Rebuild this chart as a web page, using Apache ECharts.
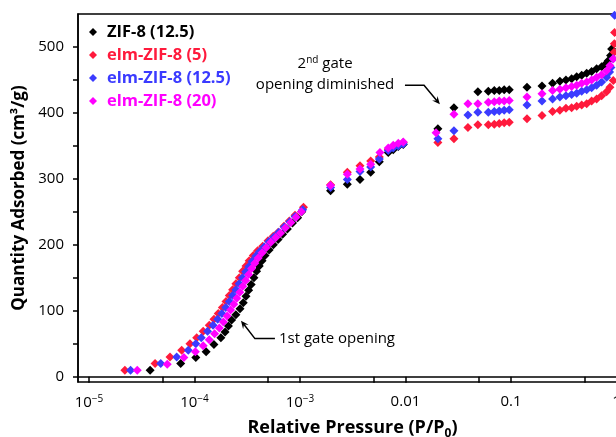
<!DOCTYPE html>
<html>
<head>
<meta charset="UTF-8">
<title>ZIF-8 isotherms</title>
<script src="https://cdn.jsdelivr.net/npm/echarts@6/dist/echarts.min.js"></script>
<style>
    * { margin: 0; padding: 0; box-sizing: border-box; }
    html, body { width: 100%; height: 100%; background: #fff; }
    #chart { width: 616px; height: 437px; }
</style>
</head>
<body>
<div id="chart"></div>
<script>
// [relative pressure, quantity adsorbed (cm3/g)]
var zif8_125 = [
    [3.8e-5,10],[7.4e-5,20],[1.03e-4,29],[1.29e-4,38],[1.53e-4,49],[1.78e-4,59],[1.95e-4,68],[2.1e-4,77],
    [2.25e-4,86],[2.47e-4,94],[2.7e-4,103],[2.9e-4,112],[3.08e-4,122],[3.26e-4,131],[3.45e-4,140],[3.66e-4,150],
    [3.88e-4,160],[4.11e-4,168],[4.37e-4,176],[4.66e-4,184],[5.1e-4,192],[5.6e-4,200],[6.2e-4,208],[6.85e-4,216],
    [7.6e-4,224],[8.5e-4,233],[9.5e-4,241],[1.04e-3,250],
    [1.95e-3,282],[2.81e-3,292],[3.71e-3,299],[4.68e-3,310],[5.65e-3,326],[6.87e-3,340],[7.66e-3,344],[8.55e-3,349],[9.53e-3,352],
    [0.0203,376],[0.0288,408],[0.0486,432],[0.061,433],[0.0695,434],[0.0775,434],[0.0863,435],[0.0964,435],
    [0.142,439],[0.197,441],[0.248,445],[0.291,448],[0.332,450],[0.376,452],[0.42,455],[0.468,457],[0.522,460],
    [0.582,463],[0.649,467],[0.724,470],[0.79,474],[0.836,479],[0.88,487],[0.9,497]
];
var elm_5 = [
    [2.19e-5,10],[4.23e-5,20],[5.86e-5,30],[7.57e-5,40],[9.06e-5,50],[1.05e-4,59],[1.21e-4,69],[1.38e-4,78],
    [1.53e-4,87],[1.68e-4,96],[1.84e-4,105],[1.99e-4,114],[2.14e-4,123],[2.3e-4,132],[2.47e-4,141],[2.66e-4,150],
    [2.86e-4,160],[3.08e-4,168],[3.3e-4,176],[3.61e-4,184],[3.97e-4,191],[4.43e-4,198],[4.98e-4,206],[5.58e-4,213],
    [6.22e-4,219],[7.05e-4,228],[7.93e-4,236],[8.97e-4,245],[1.08e-3,257],
    [1.95e-3,291],[2.81e-3,310],[3.71e-3,320],[4.68e-3,327],[5.65e-3,333],[6.87e-3,345],[7.66e-3,349],[8.55e-3,352],[9.53e-3,355],
    [0.0203,355],[0.0288,361],[0.0391,378],[0.0486,382],[0.061,382],[0.0695,383],[0.0775,384],[0.0863,385],[0.0964,386],
    [0.142,391],[0.197,396],[0.248,402],[0.291,404],[0.332,407],[0.376,408],[0.42,410],[0.468,412],[0.522,414],
    [0.582,418],[0.649,421],[0.724,426],[0.807,432],[0.867,439],[0.933,449],[0.95,492],[0.955,505],[0.96,522]
];
var elm_125 = [
    [2.48e-5,10],[4.79e-5,20],[6.78e-5,30],[8.73e-5,40],[1.03e-4,50],[1.16e-4,59],[1.33e-4,69],[1.5e-4,78],
    [1.66e-4,87],[1.82e-4,96],[1.98e-4,105],[2.14e-4,114],[2.3e-4,123],[2.47e-4,132],[2.65e-4,141],[2.85e-4,150],
    [3.06e-4,159],[3.28e-4,167],[3.52e-4,175],[3.82e-4,183],[4.15e-4,190],[4.58e-4,197],[5.08e-4,205],[5.65e-4,212],
    [6.3e-4,219],[7.1e-4,227],[8.0e-4,235],[9.0e-4,243],[1.06e-3,253],
    [1.95e-3,287],[2.81e-3,299],[3.71e-3,311],[4.68e-3,318],[5.65e-3,330],[6.87e-3,343],[7.66e-3,347],[8.55e-3,350],[9.53e-3,353],
    [0.0203,361],[0.0288,373],[0.0391,397],[0.0486,401],[0.061,401],[0.0695,402],[0.0775,403],[0.0863,404],[0.0964,405],
    [0.142,412],[0.197,418],[0.248,421],[0.291,424],[0.332,426],[0.376,428],[0.42,430],[0.468,433],[0.522,435],
    [0.582,438],[0.649,442],[0.724,447],[0.807,454],[0.86,462],[0.887,469],[0.93,482],[0.96,548]
];
var elm_20 = [
    [2.87e-5,10],[5.52e-5,19],[7.94e-5,29],[1.02e-4,38],[1.21e-4,47],[1.38e-4,56],[1.55e-4,65],[1.72e-4,74],
    [1.88e-4,83],[2.04e-4,92],[2.2e-4,101],[2.36e-4,110],[2.52e-4,119],[2.69e-4,128],[2.87e-4,137],[3.06e-4,146],
    [3.26e-4,155],[3.48e-4,164],[3.73e-4,172],[4.02e-4,180],[4.38e-4,188],[4.8e-4,196],[5.3e-4,204],[5.9e-4,211],
    [6.55e-4,218],[7.3e-4,226],[8.2e-4,234],[9.2e-4,242],[1.03e-3,250],
    [1.95e-3,290],[2.81e-3,307],[3.71e-3,315],[4.68e-3,322],[5.73e-3,340],[6.87e-3,347],[7.66e-3,351],[8.55e-3,354],[9.53e-3,356],
    [0.0195,370],[0.0288,398],[0.0391,414],[0.0486,414],[0.061,416],[0.0695,417],[0.0775,418],[0.0863,418],[0.0964,419],
    [0.142,424],[0.197,429],[0.248,434],[0.291,436],[0.332,438],[0.376,440],[0.42,442],[0.468,445],[0.522,447],
    [0.582,450],[0.649,454],[0.724,458],[0.807,464],[0.867,472],[0.933,482]
];

var seriesNames = ['ZIF-8 (12.5)', 'elm-ZIF-8 (5)', 'elm-ZIF-8 (12.5)', 'elm-ZIF-8 (20)'];
var seriesData = [zif8_125, elm_5, elm_125, elm_20];
var colors = ['#000000', '#ff1a3c', '#3b3bff', '#ff00ff'];

var pressureTicks = [1e-5, 5e-5, 1e-4, 5e-4, 1e-3, 5e-3, 0.01, 0.05, 0.1, 0.5, 1];
var pressureLabels = [1e-5, 1e-4, 1e-3, 0.01, 0.1, 1];
var quantityTicks = [0, 50, 100, 150, 200, 250, 300, 350, 400, 450, 500];
var quantityLabels = [0, 100, 200, 300, 400, 500];

var FONT = '"Open Sans", "DejaVu Sans", sans-serif';

var myChart = echarts.init(document.getElementById('chart'));

var series = seriesNames.map(function (name, i) {
    return {
        name: name,
        type: 'scatter',
        symbol: 'diamond',
        symbolSize: 9,
        itemStyle: { color: colors[i], opacity: 1 },
        emphasis: { disabled: true },
        data: seriesData[i]
    };
});

function fmtPressure(v) {
    var e = Math.round(Math.log10(v));
    if (e <= -3) return '{b|10}{s|\u2212' + (-e) + '}';
    return '{b|' + (e === -2 ? '0.01' : e === -1 ? '0.1' : '1') + '}';
}

var option = {
    animation: false,
    backgroundColor: '#fff',
    textStyle: { fontFamily: FONT },
    grid: {
        left: 78, top: 14, width: 549, height: 368,
        outerBoundsMode: 'none',
        containLabel: false,
        show: true, borderColor: '#000', borderWidth: 1.5
    },
    legend: {
        orient: 'vertical',
        left: 84, top: 17,
        itemWidth: 8, itemHeight: 8, itemGap: 3,
        icon: 'diamond',
        selectedMode: false,
        textStyle: { fontFamily: FONT, fontSize: 16.5, fontWeight: 'bold', lineHeight: 20, padding: [0, 0, 0, 5] },
        data: seriesNames.map(function (n, i) {
            return { name: n, textStyle: { color: colors[i] } };
        })
    },
    xAxis: {
        type: 'log',
        logBase: 10,
        min: Math.pow(10, -5.104),
        max: Math.pow(10, 0.1),
        name: 'Relative Pressure (P/P{sub|0})',
        nameLocation: 'middle',
        nameGap: 34,
        nameTextStyle: {
            fontFamily: FONT, fontSize: 18, fontWeight: 'bold', color: '#000',
            rich: { sub: { fontSize: 12, fontWeight: 'bold', fontFamily: FONT, padding: [12, 0, 0, 0] } }
        },
        axisLine: { show: true, lineStyle: { color: '#000', width: 1.5 } },
        axisTick: { show: true, inside: false, length: 6, lineStyle: { color: '#000', width: 1.5 }, customValues: pressureTicks },
        splitLine: { show: false },
        minorTick: { show: false },
        axisLabel: {
            margin: 12,
            color: '#000',
            customValues: pressureLabels,
            formatter: fmtPressure,
            rich: {
                b: { fontSize: 15, fontFamily: FONT, color: '#000' },
                s: { fontSize: 10, fontFamily: FONT, color: '#000', padding: [0, 0, 8, 0] }
            }
        }
    },
    yAxis: {
        type: 'value',
        min: -8,
        max: 550,
        name: 'Quantity Adsorbed (cm\u00b3/g)',
        nameLocation: 'middle',
        nameGap: 41,
        nameTextStyle: { fontFamily: FONT, fontSize: 17, fontWeight: 'bold', color: '#000' },
        axisLine: { show: true, lineStyle: { color: '#000', width: 1.5 } },
        axisTick: { show: true, inside: false, length: 5, lineStyle: { color: '#000', width: 1.5 }, customValues: quantityTicks },
        splitLine: { show: false },
        axisLabel: { margin: 14, fontSize: 15, fontFamily: FONT, color: '#000', customValues: quantityLabels }
    },
    series: series
};

myChart.setOption(option);

// annotations, positioned in data coordinates
var gate2Text = { at: [1.73e-3, 474], at2: [1.73e-3, 443] };
var gate2Arrow = [[9.89e-3, 442], [0.015, 442], [0.0212, 413]];
var gate1Arrow = [[5.79e-4, 57.8], [3.74e-4, 57.8], [2.76e-4, 85]];
var gate1Text = [6.32e-4, 57.8];

function px(p) { return myChart.convertToPixel({ gridIndex: 0 }, p); }

function arrow(pts) {
    var P = pts.map(px);
    var a = P[P.length - 2], b = P[P.length - 1];
    var dx = b[0] - a[0], dy = b[1] - a[1], L = Math.sqrt(dx * dx + dy * dy);
    var ux = dx / L, uy = dy / L, len = 8, hw = 3.5;
    var base = [b[0] - ux * len, b[1] - uy * len];
    var line = P.slice(0, -1).concat([[b[0] - ux * 4, b[1] - uy * 4]]);
    return [
        { type: 'polyline', shape: { points: line }, style: { stroke: '#000', lineWidth: 1.5, fill: null }, silent: true },
        { type: 'polygon', shape: { points: [b, [base[0] - uy * hw, base[1] + ux * hw], [b[0] - ux * 5, b[1] - uy * 5], [base[0] + uy * hw, base[1] - ux * hw]] },
          style: { fill: '#000' }, silent: true }
    ];
}

var g2a = px(gate2Text.at), g2b = px(gate2Text.at2), g1 = px(gate1Text);
var graphics = [].concat(arrow(gate2Arrow), arrow(gate1Arrow), [
    { type: 'text', x: g2a[0], y: g2a[1], silent: true,
      style: { text: '{t|2}{sup|nd}{t| gate}', align: 'center', verticalAlign: 'middle',
               rich: { t: { fontSize: 15, fontFamily: FONT, fill: '#000' },
                       sup: { fontSize: 10, fontFamily: FONT, fill: '#000', padding: [0, 0, 8, 0] } } } },
    { type: 'text', x: g2b[0], y: g2b[1], silent: true,
      style: { text: 'opening diminished', align: 'center', verticalAlign: 'middle', fontSize: 15, fontFamily: FONT, fill: '#000' } },
    { type: 'text', x: g1[0], y: g1[1], silent: true,
      style: { text: '1st gate opening', align: 'left', verticalAlign: 'middle', fontSize: 15, fontFamily: FONT, fill: '#000' } }
]);
myChart.setOption({ graphic: graphics });
</script>
</body>
</html>
